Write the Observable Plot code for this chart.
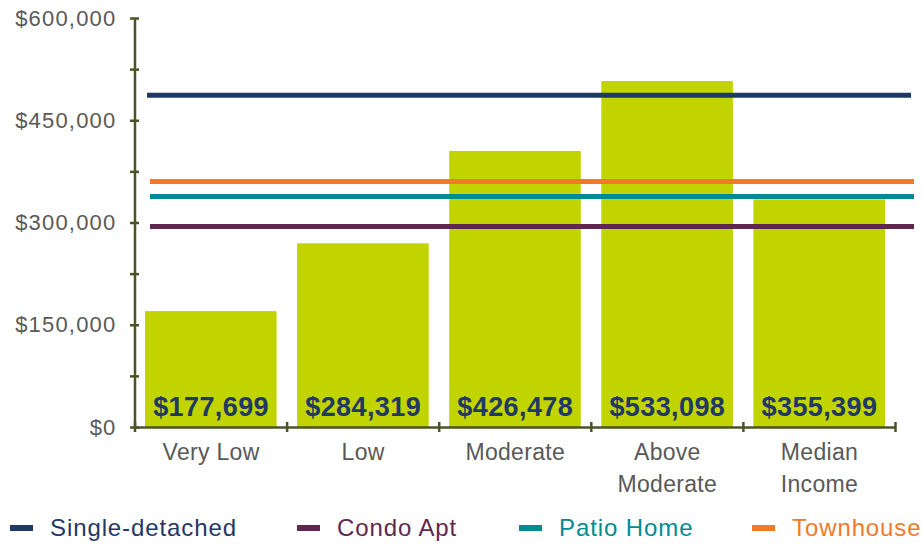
<!DOCTYPE html>
<html><head><meta charset="utf-8">
<script src="https://cdn.jsdelivr.net/npm/d3@7"></script>
<script src="https://cdn.jsdelivr.net/npm/@observablehq/plot@0.6"></script>
<style>
html,body{margin:0;padding:0;background:#fff;overflow:hidden;font-family:"Liberation Sans",Arial,sans-serif;}
#chart{width:923px;height:505px;}
#legend{position:relative;height:39px;width:923px;}
.item{position:absolute;top:5px;height:36px;display:flex;align-items:center;font-size:24px;letter-spacing:0.9px;white-space:nowrap;}
.sw{width:23px;height:6px;margin-right:17px;}
</style></head><body>
<div id="chart"></div><div id="legend"></div>
<script>
const categories = ["Very Low", "Low", "Moderate", "Above\nModerate", "Median\nIncome"];
const barValues = [170000, 269500, 405000, 507500, 334000];
const barLabels = ["$177,699", "$284,319", "$426,478", "$533,098", "$355,399"];
const seriesNames = ["Single-detached", "Condo Apt", "Patio Home", "Townhouse"];
const seriesValues = [487500, 295000, 339000, 361000];
const seriesColors = ["#1f3864", "#5f2750", "#008b94", "#f07a28"];
const yLabelTicks = [0, 150000, 300000, 450000, 600000];
const yMinorTicks = [0, 75000, 150000, 225000, 300000, 375000, 450000, 525000, 600000];

const idx = d3.range(categories.length);
const bars = idx.map(i => ({i, value: barValues[i], label: barLabels[i]}));
const lines = seriesNames.map((name, k) => ({k, name, value: seriesValues[k], color: seriesColors[k]}));
const axisColor = "#4a5526";
const textGray = "#595959";

const svg = Plot.plot({
  width: 923, height: 505,
  marginLeft: 134.5, marginRight: 9, marginTop: 18, marginBottom: 78,
  x: {domain: [0, categories.length], range: [134.5, 895], axis: null},
  y: {domain: [0, 600000], axis: null},
  color: {type: "identity"},
  style: {fontFamily: "'Liberation Sans', Arial, sans-serif", background: "white"},
  marks: [
    Plot.rectY(bars, {x1: "i", x2: d => d.i + 1, y: "value", fill: "#c1d400", insetLeft: 10.5, insetRight: 10}),
    Plot.ruleY(lines.filter(d => d.k === 0), {y: "value", stroke: "color", strokeWidth: 5, insetLeft: 12.5, insetRight: 3}),
    Plot.ruleY(lines.filter(d => d.k !== 0), {y: "value", stroke: "color", strokeWidth: 5, insetLeft: 15.5, insetRight: 0}),
    Plot.text(bars, {x: d => d.i + 0.5, y: 0, text: "label", dy: -20, fill: "#1f3864", fontSize: 27, fontWeight: "bold", lineAnchor: "middle"}),
    Plot.ruleX([0], {stroke: axisColor, strokeWidth: 2.5}),
    Plot.ruleY([0], {stroke: axisColor, strokeWidth: 2.5, insetRight: 19}),
    Plot.axisY(yMinorTicks, {tickSize: 9, dx: 4.5, tickFormat: () => "", stroke: axisColor, strokeWidth: 2.5, label: null}),
    Plot.axisY(yLabelTicks, {tickSize: 0, tickPadding: 18.5, tickFormat: d => "$" + d3.format(",")(d), fontSize: 22, color: textGray, label: null}),
    Plot.axisX(d3.range(0, categories.length + 1), {tickSize: 10, dy: -5, tickFormat: () => "", stroke: axisColor, strokeWidth: 2.5, label: null}),
    Plot.axisX(idx.map(i => i + 0.5), {tickSize: 0, tickPadding: 10, tickFormat: d => categories[Math.floor(d)], fontSize: 23, lineHeight: 1.39, color: textGray, label: null})
  ]
});
document.getElementById("chart").appendChild(svg);
d3.select(svg).selectAll("g[aria-label='y-axis tick label'] text").style("letter-spacing", "1.2px");
d3.select(svg).selectAll("g[aria-label='x-axis tick label'] text").style("letter-spacing", "0.3px");
d3.select(svg).selectAll("g[aria-label='text'] text").style("letter-spacing", "0.4px");

const legendLefts = [10, 297, 519, 752];
const legend = d3.select("#legend");
seriesNames.forEach((name, k) => {
  const item = legend.append("div").attr("class", "item").style("left", legendLefts[k] + "px").style("color", seriesColors[k]);
  item.append("div").attr("class", "sw").style("background", seriesColors[k]);
  item.append("span").text(name);
});
</script>
</body></html>
